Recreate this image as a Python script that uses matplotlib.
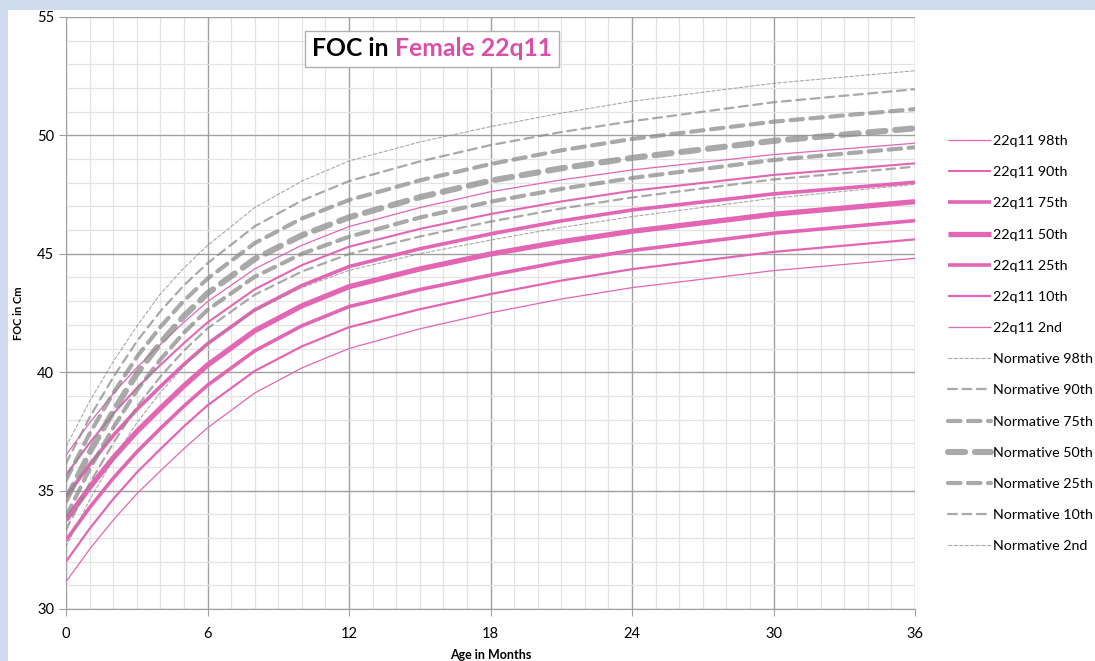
import matplotlib
matplotlib.use("Agg")
import matplotlib.pyplot as plt
from matplotlib.patches import Rectangle
from matplotlib.offsetbox import TextArea, HPacker, AnchoredOffsetbox
from matplotlib.ticker import MultipleLocator

# возраст в месяцах
ages = [0, 1, 2, 3, 4, 5, 6, 8, 10, 12, 15, 18, 21, 24, 30, 36]

# 22q11, девочки
p98 = [36.5, 37.86, 39.09, 40.19, 41.17, 42.11, 42.98, 44.36, 45.36, 46.15, 46.95, 47.62, 48.12, 48.54, 49.19, 49.67]
p90 = [35.66, 37.01, 38.24, 39.33, 40.3, 41.23, 42.1, 43.5, 44.52, 45.3, 46.05, 46.68, 47.21, 47.66, 48.33, 48.82]
p75 = [34.74, 36.1, 37.32, 38.42, 39.39, 40.33, 41.2, 42.63, 43.66, 44.46, 45.21, 45.84, 46.39, 46.85, 47.53, 48.02]
p50 = [33.76, 35.13, 36.38, 37.49, 38.47, 39.42, 40.3, 41.75, 42.8, 43.61, 44.36, 44.99, 45.51, 45.95, 46.67, 47.2]
p25 = [32.9, 34.28, 35.52, 36.63, 37.62, 38.57, 39.45, 40.9, 41.96, 42.77, 43.49, 44.1, 44.66, 45.14, 45.87, 46.4]
p10 = [32.0, 33.39, 34.64, 35.76, 36.75, 37.71, 38.6, 40.05, 41.09, 41.9, 42.66, 43.3, 43.87, 44.35, 45.08, 45.61]
p2 = [31.15, 32.52, 33.75, 34.86, 35.83, 36.77, 37.65, 39.12, 40.18, 41.0, 41.83, 42.51, 43.09, 43.57, 44.29, 44.81]

# норматив
n98 = [36.85, 38.77, 40.44, 41.94, 43.3, 44.4, 45.35, 46.95, 48.07, 48.92, 49.72, 50.37, 50.94, 51.44, 52.2, 52.73]
n90 = [36.15, 38.09, 39.78, 41.3, 42.57, 43.67, 44.6, 46.16, 47.25, 48.07, 48.9, 49.59, 50.14, 50.6, 51.4, 51.95]
n75 = [35.45, 37.41, 39.11, 40.64, 41.91, 43.02, 43.95, 45.45, 46.49, 47.27, 48.1, 48.79, 49.37, 49.85, 50.58, 51.11]
n50 = [34.6, 36.61, 38.35, 39.93, 41.23, 42.37, 43.33, 44.78, 45.78, 46.54, 47.39, 48.09, 48.61, 49.05, 49.77, 50.3]
n25 = [33.9, 35.91, 37.65, 39.23, 40.53, 41.67, 42.63, 44.03, 45.0, 45.72, 46.53, 47.2, 47.74, 48.2, 48.96, 49.5]
n10 = [33.34, 35.3, 37.0, 38.53, 39.81, 40.91, 41.85, 43.27, 44.25, 44.99, 45.73, 46.36, 46.91, 47.38, 48.14, 48.68]
n2 = [32.63, 34.6, 36.31, 37.86, 39.14, 40.26, 41.2, 42.6, 43.57, 44.3, 45.0, 45.58, 46.11, 46.57, 47.35, 47.93]

pct_names = ["98th", "90th", "75th", "50th", "25th", "10th", "2nd"]
pink_series = [p98, p90, p75, p50, p25, p10, p2]
norm_series = [n98, n90, n75, n50, n25, n10, n2]
widths = [0.9, 1.5, 2.6, 3.8, 2.6, 1.6, 0.9]
norm_widths = [0.8, 1.6, 3.0, 4.4, 3.0, 1.6, 0.8]
norm_dashes = [(3, 2), (4, 2.5), (3, 1.8), (2.8, 1.6), (3, 1.8), (4, 2.5), (3, 2)]

pink = "#e266b3"
grey = "#8c8c8c"

plt.rcParams["font.family"] = ["Lato", "DejaVu Sans"]

fig = plt.figure(figsize=(10.95, 6.61), dpi=100)
fig.patch.set_facecolor("#cfdbef")
fig.patches.append(Rectangle((8 / 1095, 0), 1, 1 - 10 / 661, transform=fig.transFigure,
                             facecolor="white", edgecolor="none", zorder=-10))

ax = fig.add_axes([66 / 1095, 1 - 609 / 661, (915 - 66) / 1095, (609 - 17) / 661])
ax.set_zorder(1)
ax.patch.set_alpha(0)
ax.set_xlim(0, 36)
ax.set_ylim(30, 55)
ax.xaxis.set_major_locator(MultipleLocator(6))
ax.xaxis.set_minor_locator(MultipleLocator(1))
ax.yaxis.set_major_locator(MultipleLocator(5))
ax.yaxis.set_minor_locator(MultipleLocator(1))
ax.grid(which="minor", color="#e3e3e3", linewidth=0.9)
ax.grid(which="major", color="#a0a0a0", linewidth=1.0)
ax.set_axisbelow(True)
for side in ["top", "right"]:
    ax.spines[side].set_visible(False)
for side in ["left", "bottom"]:
    ax.spines[side].set_color("#a0a0a0")
ax.tick_params(which="major", length=5, color="#a0a0a0", labelsize=10.5)
ax.tick_params(axis="x", pad=8)
ax.tick_params(which="minor", length=0)

handles = []
for name, vals, lw in zip(pct_names, pink_series, widths):
    h, = ax.plot(ages, vals, color=pink, linewidth=lw, solid_capstyle="butt",
                 solid_joinstyle="round", label="22q11 " + name, zorder=3)
    handles.append(h)
for name, vals, lw, ds in zip(pct_names, norm_series, norm_widths, norm_dashes):
    h, = ax.plot(ages, vals, color=grey, alpha=0.75, linewidth=lw, dashes=ds,
                 dash_capstyle="round", label="Normative " + name, zorder=4)
    handles.append(h)

ax.set_xlabel("Age in Months", fontsize=9, fontweight="bold", labelpad=6)
ax.set_ylabel("FOC in Cm", fontsize=8, fontweight="bold", labelpad=9)

fig.legend(handles=handles, loc="upper left", bbox_to_anchor=(948 / 1095, 1 - 135 / 661),
           frameon=False, fontsize=10.3, handlelength=3.0, handletextpad=0.15,
           labelspacing=1.34, borderpad=0, borderaxespad=0)

# заголовок в рамке
t1 = TextArea("FOC in ", textprops=dict(color="black", fontsize=17.8, fontweight="bold"))
t2 = TextArea("Female 22q11", textprops=dict(color="#d94fa8", fontsize=17.8, fontweight="bold"))
box = HPacker(children=[t1, t2], align="baseline", pad=0, sep=0)
title = AnchoredOffsetbox(loc="center", child=box, pad=0.5, frameon=True,
                          bbox_to_anchor=(432 / 1095, 1 - 49 / 661),
                          bbox_transform=fig.transFigure, borderpad=0)
title.patch.set_edgecolor("#b0b0b0")
title.patch.set_linewidth(1)
title.set_zorder(6)
ax.add_artist(title)

fig.savefig("out.png", dpi=100, facecolor=fig.get_facecolor())
